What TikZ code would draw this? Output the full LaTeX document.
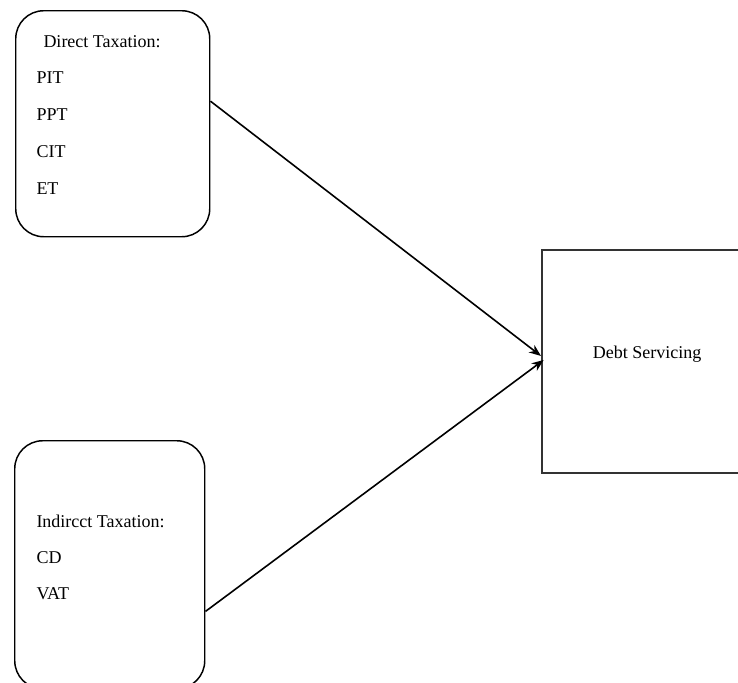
\documentclass[tikz,border=0pt]{standalone}
\usepackage{fontspec}
\setmainfont{Liberation Serif}
\usetikzlibrary{arrows.meta}

\tikzset{every picture/.style={line width=0.75pt}}
\tikzset{
  taxbox/.style={draw, rounded corners=21pt, line width=1.1pt, anchor=north west, inner sep=0pt},
  debtbox/.style={draw={rgb,255:red,51;green,51;blue,51}, line width=1.2pt, anchor=north west, inner sep=0pt},
  itemtxt/.style={anchor=west, inner sep=0.75pt, font=\fontsize{13.5}{16}\selectfont},
  link/.style={-{Stealth[length=9pt,width=7pt]}, line width=1.2pt}
}

\begin{document}
\begin{tikzpicture}[x=0.75pt,y=0.75pt,yscale=-1,xscale=1]
\useasboundingbox (0,0) rectangle (738,682);

%Shape: Rounded Rectangle [id:direct]
\node [taxbox, minimum width=145.5pt, minimum height=169.5pt] (direct) at (15,10) {};
%Shape: Rounded Rectangle [id:indirect]
\node [taxbox, minimum width=142.5pt, minimum height=186pt] (indirect) at (14,440) {};
%Shape: Rectangle [id:debt]
\node [debtbox, minimum width=164pt, minimum height=167.25pt] (debt) at (541,249) {};

% Text Node
\node [itemtxt] (dtitle) at (42,42) {Direct Taxation:};
% Text Node
\node [itemtxt] (pit) at (35,78) {PIT};
% Text Node
\node [itemtxt] (ppt) at (35,115) {PPT};
% Text Node
\node [itemtxt] (cit) at (35,152) {CIT};
% Text Node
\node [itemtxt] (et) at (35,189) {ET};
% Text Node
\node [itemtxt] (ititle) at (35,521) {Indircct Taxation:};
% Text Node
\node [itemtxt] (cd) at (35,558) {CD};
% Text Node
\node [itemtxt] (vat) at (35,594) {VAT};
% Text Node
\node [itemtxt, anchor=center] (dlabel) at (647,354) {Debt Servicing};

% Connection
\draw [link] (direct.13) -- ([yshift=-4pt]debt.west);
% Connection
\draw [link] (indirect.-26) -- ([xshift=2pt,yshift=-1pt]debt.west);

\end{tikzpicture}
\end{document}
